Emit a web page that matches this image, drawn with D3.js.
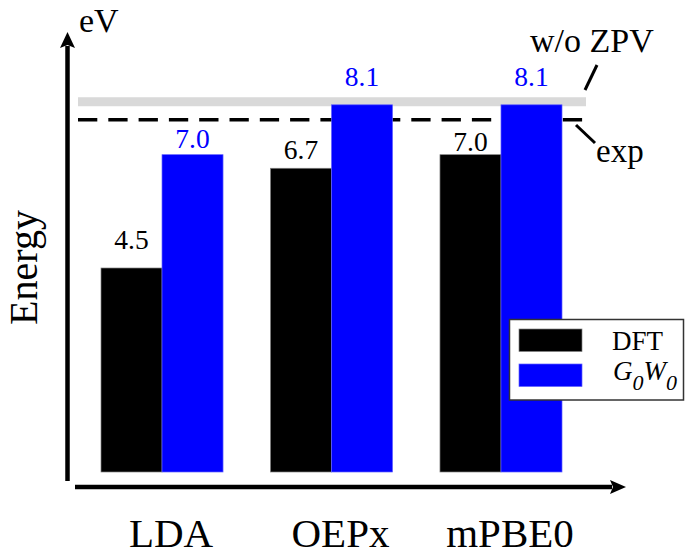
<!DOCTYPE html>
<html>
<head>
<meta charset="utf-8">
<script src="https://cdn.jsdelivr.net/npm/d3@7/dist/d3.min.js"></script>
<style>
  body { margin: 0; background: #fff; overflow: hidden; }
</style>
</head>
<body>
<div id="chart"></div>
<script>
// values
const categories = ["LDA", "OEPx", "mPBE0"];
const methods = ["DFT", "G0W0"];
const dftValues = [4.5, 6.7, 7.0];
const gwValues = [7.0, 8.1, 8.1];
const expValue = 7.77;      // dashed line
const noZpvValue = 8.17;    // grey band, w/o ZPV

// gap between bar top and its value label (hand placed in the original)
const dftLabelGap = [19, 9, 4];
const gwLabelGap = [7, 19, 19];

const width = 686;
const height = 556;
const colors = { DFT: "#000000", G0W0: "#0000ff" };
const edges = { DFT: "#808080", G0W0: "#6060ff" };

let svg = d3.select("#chart")
    .append("svg")
    .attr("width", width)
    .attr("height", height)
    .attr("font-family", "'Liberation Serif', 'Times New Roman', Times, serif");

// one row per category
let data = categories.map(function (c, i) {
    return { cat: c, DFT: dftValues[i], G0W0: gwValues[i], gapDFT: dftLabelGap[i], gapG0W0: gwLabelGap[i] };
});

let yScale = d3.scaleLinear()
    .domain([0, 9])
    .range([472, 64]);

let xScale = d3.scaleBand()
    .domain(categories)
    .range([101, 562])
    .paddingInner(0.28)
    .paddingOuter(0);

let xInner = d3.scaleBand()
    .domain(methods)
    .range([0, xScale.bandwidth()]);

// grey band (w/o ZPV) and dashed exp line, under the bars
svg.append("line")
    .attr("x1", 78).attr("x2", 586)
    .attr("y1", yScale(noZpvValue)).attr("y2", yScale(noZpvValue))
    .attr("stroke", "#d9d9d9")
    .attr("stroke-width", 9);

svg.append("line")
    .attr("x1", 78).attr("x2", 583)
    .attr("y1", yScale(expValue)).attr("y2", yScale(expValue))
    .attr("stroke", "#000")
    .attr("stroke-width", 3.5)
    .attr("stroke-dasharray", "19.3,11");

// bars
let groups = svg.selectAll(".group")
    .data(data)
    .enter()
    .append("g")
    .attr("class", "group")
    .attr("transform", function (d) { return "translate(" + xScale(d.cat) + ",0)"; });

let pairs = function (d) {
    return methods.map(function (m) { return { m: m, v: d[m], gap: d["gap" + m] }; });
};

groups.selectAll("rect")
    .data(pairs)
    .enter()
    .append("rect")
    .attr("x", function (d) { return xInner(d.m); })
    .attr("y", function (d) { return yScale(d.v); })
    .attr("width", xInner.bandwidth())
    .attr("height", function (d) { return yScale(0) - yScale(d.v); })
    .attr("fill", function (d) { return colors[d.m]; })
    .attr("stroke", function (d) { return edges[d.m]; })
    .attr("stroke-width", 0.7);

// value labels
groups.selectAll(".val")
    .data(pairs)
    .enter()
    .append("text")
    .attr("class", "val")
    .attr("x", function (d) { return xInner(d.m) + xInner.bandwidth() / 2; })
    .attr("y", function (d) { return yScale(d.v) - d.gap; })
    .attr("text-anchor", "middle")
    .attr("font-size", 27.5)
    .attr("fill", function (d) { return colors[d.m]; })
    .text(function (d) { return d3.format(".1f")(d.v); });

// category labels
svg.selectAll(".cat")
    .data(categories)
    .enter()
    .append("text")
    .attr("class", "cat")
    .attr("x", function (d) { return xScale(d) + xScale.bandwidth() / 2 + 9; })
    .attr("y", 547)
    .attr("text-anchor", "middle")
    .attr("font-size", 41)
    .text(function (d) { return d; });

// axes with arrow heads
let yAxisX = 67.5;
let xAxisY = 487;

svg.append("line")
    .attr("x1", yAxisX).attr("x2", yAxisX)
    .attr("y1", 481).attr("y2", 46)
    .attr("stroke", "#000").attr("stroke-width", 4.5);
svg.append("path")
    .attr("d", d3.line()([[yAxisX, 32], [yAxisX - 7.5, 48], [yAxisX, 45], [yAxisX + 7.5, 48]]) + "Z")
    .attr("fill", "#000");

svg.append("line")
    .attr("x1", 75).attr("x2", 612)
    .attr("y1", xAxisY).attr("y2", xAxisY)
    .attr("stroke", "#000").attr("stroke-width", 4.5);
svg.append("path")
    .attr("d", d3.line()([[626, xAxisY], [610, xAxisY - 7], [613, xAxisY], [610, xAxisY + 7]]) + "Z")
    .attr("fill", "#000");

svg.append("text")
    .attr("x", 79).attr("y", 32)
    .attr("font-size", 34)
    .text("eV");

svg.append("text")
    .attr("transform", "translate(37,267.5) rotate(-90)")
    .attr("text-anchor", "middle")
    .attr("font-size", 40)
    .text("Energy");

// annotations
svg.append("text")
    .attr("x", 530).attr("y", 52)
    .attr("font-size", 34)
    .text("w/o ZPV");
svg.append("line")
    .attr("x1", 585).attr("y1", 90).attr("x2", 597).attr("y2", 65)
    .attr("stroke", "#000").attr("stroke-width", 3);

svg.append("text")
    .attr("x", 596).attr("y", 162)
    .attr("font-size", 33)
    .text("exp");
svg.append("line")
    .attr("x1", 576).attr("y1", 125).attr("x2", 595).attr("y2", 143)
    .attr("stroke", "#000").attr("stroke-width", 3);

// legend
let legend = svg.append("g");
legend.append("rect")
    .attr("x", 509.5).attr("y", 319.5)
    .attr("width", 174).attr("height", 80.5)
    .attr("fill", "#fff")
    .attr("stroke", "#333").attr("stroke-width", 1.5);

methods.forEach(function (m, i) {
    legend.append("rect")
        .attr("x", 519).attr("y", 329 + i * 35)
        .attr("width", 63).attr("height", 22.5)
        .attr("fill", colors[m])
        .attr("stroke", edges[m]).attr("stroke-width", 0.7);
});

legend.append("text")
    .attr("x", 612).attr("y", 350)
    .attr("font-size", 27)
    .text("DFT");

let gw = legend.append("text")
    .attr("x", 613).attr("y", 380)
    .attr("font-size", 27)
    .attr("font-style", "italic");
gw.append("tspan").text("G");
gw.append("tspan").attr("dy", 10).attr("font-size", 22).text("0");
gw.append("tspan").attr("dy", -10).text("W");
gw.append("tspan").attr("dy", 10).attr("font-size", 22).text("0");
</script>
</body>
</html>
